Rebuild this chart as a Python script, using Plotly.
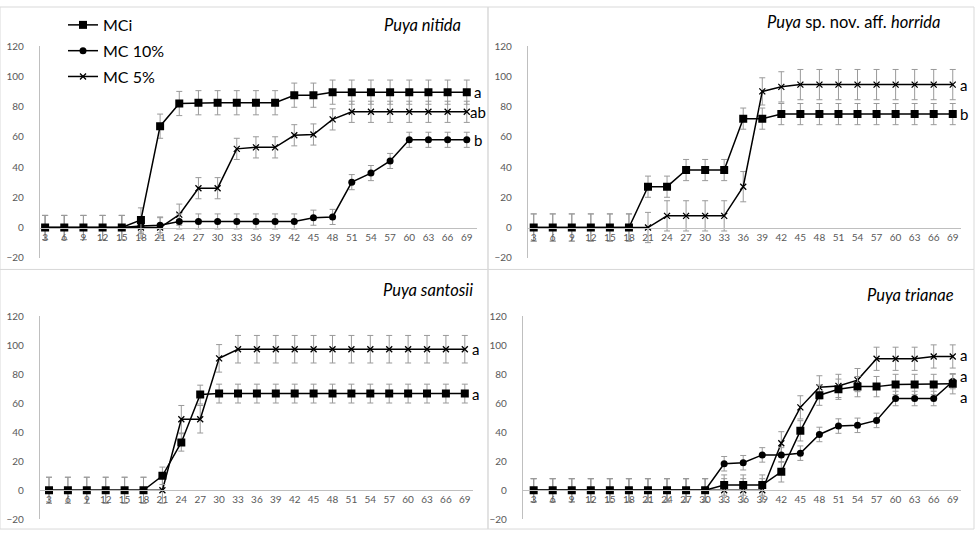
import plotly.graph_objects as go

W, H = 977, 536

days = [3, 6, 9, 12, 15, 18, 21, 24, 27, 30, 33, 36, 39, 42, 45, 48, 51, 54, 57, 60, 63, 66, 69]
y_ticks = [-20, 0, 20, 40, 60, 80, 100, 120]
series_names = ["MCi", "MC 10%", "MC 5%"]

# Puya nitida
nitida_mci = [0, 0, 0, 0, 0, 5, 67, 82, 82.5, 82.5, 82.5, 82.5, 82.5, 87.5, 87.5, 89.5, 89.5, 89.5, 89.5, 89.5, 89.5, 89.5, 89.5]
nitida_mci_err = [8, 8, 8, 8, 8, 8, 8, 8, 8, 8, 8, 8, 8, 8, 8, 8, 8, 8, 8, 8, 8, 8, 8]
nitida_mc10 = [0, 0, 0, 0, 0, 1, 1.5, 4, 4, 4, 4, 4, 4, 4, 6.5, 7, 30, 36, 44, 58, 58, 58, 58]
nitida_mc10_err = [8, 8, 8, 8, 8, 5, 5, 5, 5, 5, 5, 5, 5, 5, 5, 5, 5, 5, 5, 5, 5, 5, 5]
nitida_mc5 = [0, 0, 0, 0, 0, 0, 0, 8.5, 26, 26, 52, 53, 53, 61, 61.5, 71.5, 76.5, 76.5, 76.5, 76.5, 76.5, 76.5, 76.5]
nitida_mc5_err = [8, 8, 8, 8, 8, 7, 7, 7, 7, 7, 7, 7, 7, 7, 7, 7, 7, 7, 7, 7, 7, 7, 7]
nitida_letters = ["a", "b", "ab"]
nitida_letter_y = [89.5, 58, 76.5]

# Puya sp. nov. aff. horrida
horrida_mci = [0, 0, 0, 0, 0, 0, 27, 27, 38, 38, 38, 72, 72, 75, 75, 75, 75, 75, 75, 75, 75, 75, 75]
horrida_mci_err = [9, 9, 9, 9, 9, 9, 7, 7, 7, 7, 7, 7, 7, 7, 7, 7, 7, 7, 7, 7, 7, 7, 7]
horrida_mc5 = [0, 0, 0, 0, 0, 0, 0, 7.7, 7.7, 7.7, 7.7, 27, 90, 93, 94.5, 94.5, 94.5, 94.5, 94.5, 94.5, 94.5, 94.5, 94.5]
horrida_mc5_err = [9, 9, 9, 9, 9, 9, 10, 10, 10, 10, 10, 10, 9, 10, 10, 10, 10, 10, 10, 10, 10, 10, 10]
horrida_letters = ["b", "a"]
horrida_letter_y = [75, 94.5]

# Puya santosii
santosii_mci = [0, 0, 0, 0, 0, 0, 10, 33, 66, 66.7, 66.7, 66.7, 66.7, 66.7, 66.7, 66.7, 66.7, 66.7, 66.7, 66.7, 66.7, 66.7, 66.7]
santosii_mci_err = [9, 9, 9, 9, 9, 9, 6, 6, 6.5, 6.5, 6.5, 6.5, 6.5, 6.5, 6.5, 6.5, 6.5, 6.5, 6.5, 6.5, 6.5, 6.5, 6.5]
santosii_mc5 = [0, 0, 0, 0, 0, 0, 0, 49, 49, 91, 97.3, 97.3, 97.3, 97.3, 97.3, 97.3, 97.3, 97.3, 97.3, 97.3, 97.3, 97.3, 97.3]
santosii_mc5_err = [9, 9, 9, 9, 9, 9, 9, 9.5, 9.5, 9.5, 9.5, 9.5, 9.5, 9.5, 9.5, 9.5, 9.5, 9.5, 9.5, 9.5, 9.5, 9.5, 9.5]
santosii_letters = ["a", "a"]
santosii_letter_y = [66.7, 97.3]

# Puya trianae
trianae_mci = [0, 0, 0, 0, 0, 0, 0, 0, 0, 0, 3.6, 3.6, 3.6, 12.7, 41, 65.6, 69.7, 71.5, 71.5, 73, 73, 73, 73.5]
trianae_mci_err = [8, 8, 8, 8, 8, 8, 8, 8, 8, 8, 7, 7, 7, 7, 7, 7, 7, 7, 7, 7, 7, 7, 7]
trianae_mc10 = [0, 0, 0, 0, 0, 0, 0, 0, 0, 0, 18.3, 19, 24.4, 24.4, 25.6, 38.5, 44.3, 44.8, 48.2, 63.3, 63.3, 63.3, 75]
trianae_mc10_err = [8, 8, 8, 8, 8, 8, 8, 8, 8, 8, 5, 5, 5, 5, 5, 5, 5, 5, 5, 5, 5, 5, 5]
trianae_mc5 = [0, 0, 0, 0, 0, 0, 0, 0, 0, 0, 0, 0, 0, 32.4, 57.2, 71, 72, 76, 90.7, 90.7, 90.7, 92.3, 92.3]
trianae_mc5_err = [8, 8, 8, 8, 8, 8, 8, 8, 8, 8, 8, 8, 8, 8, 8, 8, 8, 8, 8, 8, 8, 8, 8]
trianae_letters = ["a", "a", "a"]
trianae_letter_y = [93.5, 78.5, 64.5]

titles = ["<i>Puya nitida</i>", "<i>Puya</i> sp. nov. aff. <i>horrida</i>",
          "<i>Puya santosii</i>", "<i>Puya trianae</i>"]

# panel geometry in pixels: (x_left, x_right, y_top, y_bottom, xmin, xmax)
panels = [
    (40, 477, 40, 257, 2.2, 70.6),
    (528, 961, 40, 257, 2.1, 70.3),
    (40, 473, 317, 525, 1.57, 70.3),
    (523, 961, 317, 525, 1.32, 70.3),
]
title_pos = [(463, 18), (943, 15), (475, 290), (956, 295)]
letter_shift = [[6, 6, 2], [6, 6], [6, 6], [6, 6, 6]]

panel_data = [
    (nitida_mci, nitida_mci_err, nitida_mc10, nitida_mc10_err, nitida_mc5, nitida_mc5_err, nitida_letters, nitida_letter_y),
    (horrida_mci, horrida_mci_err, None, None, horrida_mc5, horrida_mc5_err, horrida_letters, horrida_letter_y),
    (santosii_mci, santosii_mci_err, None, None, santosii_mc5, santosii_mc5_err, santosii_letters, santosii_letter_y),
    (trianae_mci, trianae_mci_err, trianae_mc10, trianae_mc10_err, trianae_mc5, trianae_mc5_err, trianae_letters, trianae_letter_y),
]

ERR_COL = "#9a9a9a"
AX_COL = "#bfbfbf"
FONT = "Lato, Liberation Sans, sans-serif"
TICK_FONT = dict(family=FONT, size=10, color="#595959")

fig = go.Figure()
layout = {}
annotations = []
shapes = []

for i, (pos, data) in enumerate(zip(panels, panel_data)):
    xl, xr, yt, yb, xmin, xmax = pos
    mci, mci_e, mc10, mc10_e, mc5, mc5_e, letters, letter_y = data
    sfx = "" if i == 0 else str(i + 1)
    xa, ya = "x" + sfx, "y" + sfx
    ymin, ymax = -20, 120
    y0_px = yb - (0 - ymin) / (ymax - ymin) * (yb - yt)
    layout["xaxis" + sfx] = dict(
        domain=[xl / W, xr / W], range=[xmin, xmax], anchor="free", position=1 - y0_px / H,
        tick0=3, dtick=3, showline=True, linecolor=AX_COL, linewidth=1.3, showgrid=False,
        zeroline=False, ticks="", tickfont=TICK_FONT, fixedrange=True,
    )
    layout["yaxis" + sfx] = dict(
        domain=[1 - yb / H, 1 - yt / H], range=[ymin, ymax], anchor=xa,
        tickvals=y_ticks, showline=True, linecolor=AX_COL, linewidth=1.3, showgrid=False,
        zeroline=False, ticks="", tickfont=TICK_FONT, ticklabelstandoff=13, fixedrange=True,
    )
    specs = [
        (mc5, mc5_e, "MC 5%", dict(symbol="x-thin-open", size=6, color="black", line=dict(width=1.3, color="black")), 3),
        (mc10, mc10_e, "MC 10%", dict(symbol="circle", size=7, color="black"), 2),
        (mci, mci_e, "MCi", dict(symbol="square", size=8, color="black"), 1),
    ]
    for vals, errs, name, marker, rank in specs:
        if vals is None:
            continue
        fig.add_trace(go.Scatter(
            x=days, y=vals, mode="lines+markers", name=name,
            line=dict(color="black", width=1.5), marker=marker,
            error_y=dict(type="data", array=errs, visible=True, color=ERR_COL, thickness=1, width=3),
            xaxis=xa, yaxis=ya, showlegend=(i == 0), legendrank=rank, legendgroup=name,
        ))
    for j, (lt, ly) in enumerate(zip(letters, letter_y)):
        annotations.append(dict(
            x=days[-1], y=ly, xref=xa, yref=ya, text=lt, showarrow=False,
            xanchor="left", yanchor="middle", xshift=letter_shift[i][j], borderpad=0,
            font=dict(family=FONT, size=15, color="black"),
        ))
    tx, ty = title_pos[i]
    annotations.append(dict(
        x=tx / W, y=1 - ty / H, xref="paper", yref="paper", text=titles[i], showarrow=False,
        xanchor="right", yanchor="middle",
        font=dict(family=FONT, size=16.5, color="black"),
    ))

# panel frames
for (x0, x1, y0, y1) in [(0, 488, 0, 269), (488, 974, 0, 269), (0, 488, 269, 535), (488, 974, 269, 535)]:
    shapes.append(dict(type="rect", xref="paper", yref="paper",
                       x0=x0 / W, x1=x1 / W, y0=1 - y1 / H, y1=1 - y0 / H,
                       line=dict(color="#d9d9d9", width=1), layer="below"))

fig.update_layout(
    width=W, height=H, margin=dict(l=0, r=0, t=0, b=0),
    paper_bgcolor="white", plot_bgcolor="white",
    annotations=annotations, shapes=shapes,
    legend=dict(x=63 / W, y=1 - 1 / H, xanchor="left", yanchor="top",
                bgcolor="rgba(0,0,0,0)", tracegroupgap=2,
                font=dict(family=FONT, size=16, color="black")),
    **layout,
)

fig.write_html("out.html", config={"displayModeBar": False},
               post_script="document.body.style.margin='0';document.body.style.padding='0';")
